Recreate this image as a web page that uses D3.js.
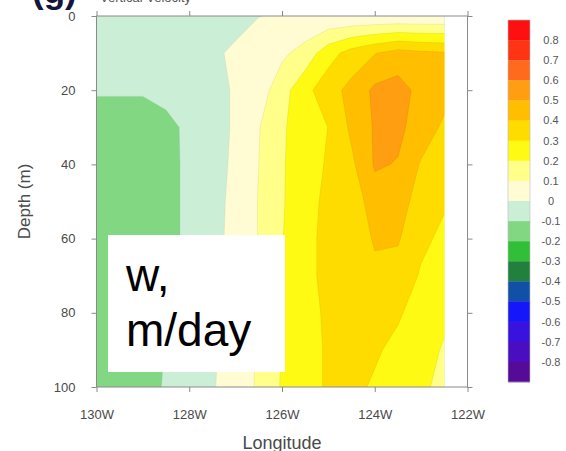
<!DOCTYPE html>
<html>
<head>
<meta charset="utf-8">
<script src="https://cdn.jsdelivr.net/npm/d3@7"></script>
<style>
  body { margin: 0; background: #fff; }
  svg { display: block; }
  text { font-family: "Liberation Sans", Arial, sans-serif; }
</style>
</head>
<body>
<svg id="chart" width="566" height="451"></svg>
<script>
// Grid coordinates: longitude (degrees W) and depth (m)
const lonW = [130, 129.5, 129, 128.5, 128, 127.5, 127, 126.5, 126, 125.5, 125, 124.5, 124, 123.5, 123, 122.5];
const depthM = [0, 10, 20, 30, 40, 50, 60, 70, 80, 90, 100];

// Vertical velocity w (m/day), one row per depth level, west to east
const wRows = [
  [-0.06, -0.06, -0.06, -0.06, -0.05, -0.04, -0.02, -0.002, 0.01, 0.01, 0.01, 0.01, 0.01, 0.01, 0.01, 0.01],
  [-0.05, -0.05, -0.05, -0.045, -0.035, -0.01, 0.01, 0.06, 0.08, 0.14, 0.26, 0.34, 0.395, 0.44, 0.42, 0.41],
  [-0.09, -0.09, -0.09, -0.085, -0.07, -0.03, 0.01, 0.05, 0.16, 0.27, 0.36, 0.43, 0.52, 0.54, 0.47, 0.44],
  [-0.15, -0.15, -0.15, -0.113, -0.09, -0.03, 0.01, 0.095, 0.19, 0.24, 0.302, 0.42, 0.51, 0.52, 0.46, 0.38],
  [-0.15, -0.15, -0.15, -0.115, -0.09, -0.03, 0.015, 0.10, 0.19, 0.26, 0.31, 0.38, 0.51, 0.495, 0.39, 0.35],
  [-0.15, -0.15, -0.15, -0.115, -0.09, -0.025, 0.02, 0.105, 0.19, 0.27, 0.32, 0.33, 0.46, 0.44, 0.36, 0.31],
  [-0.15, -0.15, -0.15, -0.115, -0.09, -0.025, 0.025, 0.105, 0.195, 0.28, 0.32, 0.31, 0.415, 0.41, 0.32, 0.28],
  [-0.14, -0.14, -0.14, -0.105, -0.09, -0.02, 0.03, 0.105, 0.198, 0.28, 0.32, 0.33, 0.37, 0.36, 0.29, 0.26],
  [-0.14, -0.14, -0.13, -0.103, -0.09, -0.02, 0.04, 0.11, 0.205, 0.28, 0.31, 0.33, 0.34, 0.31, 0.265, 0.22],
  [-0.14, -0.13, -0.12, -0.098, -0.085, -0.015, 0.05, 0.11, 0.205, 0.27, 0.31, 0.32, 0.31, 0.28, 0.24, 0.19],
  [-0.13, -0.13, -0.12, -0.095, -0.08, -0.01, 0.06, 0.11, 0.21, 0.27, 0.31, 0.32, 0.29, 0.26, 0.22, 0.17]
];

// Contour levels and fill colours (lowest band first)
const levels = [-0.8, -0.7, -0.6, -0.5, -0.4, -0.3, -0.2, -0.1, 0, 0.1, 0.2, 0.3, 0.4, 0.5, 0.6, 0.7, 0.8];
const bandColors = [
  "#550a98", "#4a0dc0", "#3a12e0", "#1616fa", "#1250a8", "#22803e", "#32bf38", "#82d782", "#cbeed6",
  "#fffcd4", "#ffff8a", "#fffa14", "#ffdc00", "#ffbf00", "#ff9e10", "#ff6a1c", "#ff3414", "#ff1010"
];
const colorbarLabels = ["0.8", "0.7", "0.6", "0.5", "0.4", "0.3", "0.2", "0.1", "0",
  "-0.1", "-0.2", "-0.3", "-0.4", "-0.5", "-0.6", "-0.7", "-0.8"];

const xTicks = [130, 128, 126, 124, 122];
const yTicks = [0, 20, 40, 60, 80, 100];

const svg = d3.select("#chart");

const x = d3.scaleLinear().domain([130, 122]).range([96.5, 467.5]);
const y = d3.scaleLinear().domain([0, 100]).range([16, 387]);

// ---- filled contours ----
const nx = lonW.length, ny = depthM.length;
const flat = wRows.flat();
const minVal = d3.min(flat);
const lowest = d3.max(levels.filter(l => l <= minVal));
const contours = d3.contours().size([nx, ny]).thresholds(levels)(flat);

const lonAt = p => lonW[0] + (p - 0.5) * (lonW[1] - lonW[0]);
const depAt = q => depthM[0] + (q - 0.5) * (depthM[1] - depthM[0]);
const proj = d3.geoTransform({
  point(px, py) { this.stream.point(x(lonAt(px)), y(depAt(py))); }
});
const path = d3.geoPath(proj);

const defs = svg.append("defs");
defs.append("clipPath").attr("id", "dataClip")
  .append("rect")
  .attr("x", x(lonW[0])).attr("y", y(depthM[0]))
  .attr("width", x(lonW[nx - 1]) - x(lonW[0]))
  .attr("height", y(depthM[ny - 1]) - y(depthM[0]));

const field = svg.append("g").attr("clip-path", "url(#dataClip)");
contours.forEach((c, k) => {
  if (c.value < lowest || c.coordinates.length === 0) return;
  const fill = bandColors[k + 1];
  field.append("path")
    .attr("d", path(c))
    .attr("fill", fill)
    .attr("stroke", d3.color(fill).darker(0.7))
    .attr("stroke-opacity", 0.35)
    .attr("stroke-width", 0.7);
});

// ---- frame and axes ----
const axisColor = "#8a8a8a";
const labelColor = "#4a4a4a";

svg.append("rect")
  .attr("x", x(130)).attr("y", y(0))
  .attr("width", x(122) - x(130)).attr("height", y(100) - y(0))
  .attr("fill", "none").attr("stroke", axisColor).attr("stroke-width", 1);

function styleAxis(g) {
  g.select(".domain").remove();
  g.selectAll(".tick line").attr("stroke", axisColor);
  g.selectAll(".tick text").attr("fill", labelColor).style("font-size", "13px")
    .style("font-family", "'Liberation Sans', Arial, sans-serif");
}

svg.append("g").attr("transform", `translate(0,${y(100)})`)
  .call(d3.axisBottom(x).tickValues(xTicks).tickSize(5).tickPadding(18).tickFormat(d => d + "W"))
  .call(styleAxis);
svg.append("g").attr("transform", `translate(0,${y(0)})`)
  .call(d3.axisTop(x).tickValues(xTicks).tickSize(5).tickFormat(""))
  .call(styleAxis);
svg.append("g").attr("transform", `translate(${x(130)},0)`)
  .call(d3.axisLeft(y).tickValues(yTicks).tickSize(5).tickPadding(16).tickFormat(d3.format("d")))
  .call(styleAxis);
svg.append("g").attr("transform", `translate(${x(122)},0)`)
  .call(d3.axisRight(y).tickValues(yTicks).tickSize(5).tickFormat(""))
  .call(styleAxis);

svg.append("text")
  .attr("x", (x(130) + x(122)) / 2).attr("y", 449)
  .attr("text-anchor", "middle").attr("fill", labelColor)
  .style("font-size", "18px").text("Longitude");

svg.append("text")
  .attr("transform", `translate(30,${(y(0) + y(100)) / 2}) rotate(-90)`)
  .attr("text-anchor", "middle").attr("fill", labelColor)
  .style("font-size", "17px").text("Depth (m)");

// ---- panel title ----
svg.append("text").attr("x", 32).attr("y", 3)
  .attr("fill", "#14143c").style("font-size", "35px").style("font-weight", "bold").text("(g)");
svg.append("text").attr("x", 100).attr("y", 2)
  .attr("fill", "#555").style("font-size", "13px").text("Vertical Velocity");

// ---- label box ----
svg.append("rect").attr("x", 108).attr("y", 235).attr("width", 177).attr("height", 137).attr("fill", "#fff");
svg.append("text").attr("x", 126).attr("y", 291).attr("fill", "#000").style("font-size", "46px").text("w,");
svg.append("text").attr("x", 126).attr("y", 346).attr("fill", "#000").style("font-size", "46px").text("m/day");

// ---- colour bar ----
const cbX = 508, cbW = 22, cbTop = 20, cbBottom = 382;
const nBoxes = bandColors.length;
const cbY = d3.scaleLinear().domain([0, nBoxes]).range([cbTop, cbBottom]);
const cb = svg.append("g");
bandColors.slice().reverse().forEach((c, i) => {
  cb.append("rect")
    .attr("x", cbX).attr("y", cbY(i))
    .attr("width", cbW).attr("height", cbY(i + 1) - cbY(i) + 0.3)
    .attr("fill", c);
});
cb.append("rect").attr("x", cbX).attr("y", cbTop).attr("width", cbW).attr("height", cbBottom - cbTop)
  .attr("fill", "none").attr("stroke", "#bbb").attr("stroke-width", 0.6);
colorbarLabels.forEach((t, i) => {
  cb.append("text")
    .attr("x", 551).attr("y", cbY(i + 1)).attr("dy", "0.35em")
    .attr("text-anchor", "middle").attr("fill", "#555")
    .style("font-size", "11px").text(t);
});
</script>
</body>
</html>
